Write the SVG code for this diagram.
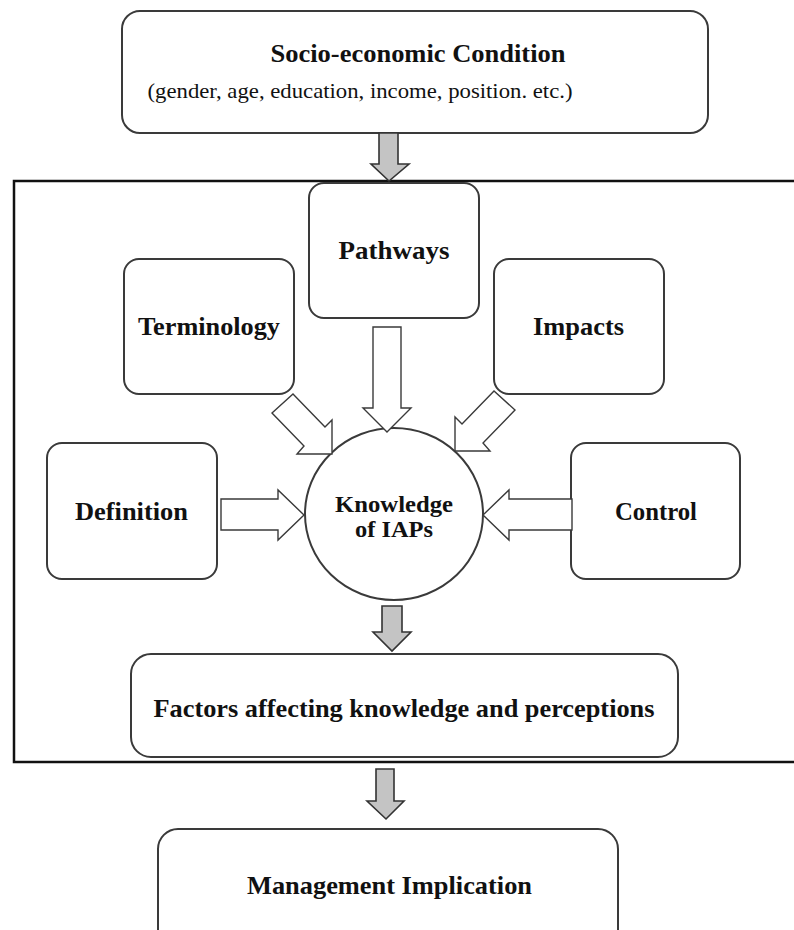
<svg xmlns="http://www.w3.org/2000/svg" width="794" height="930" viewBox="0 0 794 930">
<style>
.box{fill:#fff;stroke:#3a3a3a;stroke-width:2}
.frame{fill:none;stroke:#111;stroke-width:2.5}
.hollow{fill:#fff;stroke:#3a3a3a;stroke-width:1.4;stroke-linejoin:miter}
.gray{fill:#c4c4c4;stroke:#333;stroke-width:1.6;stroke-linejoin:miter}
.t{font-family:"Liberation Serif","Times New Roman",serif;font-weight:bold;fill:#111;text-anchor:middle}
.s{font-family:"Liberation Serif","Times New Roman",serif;fill:#111;text-anchor:middle}
</style>
<rect width="794" height="930" fill="#fff"/>
<rect id="frame" class="frame" x="14" y="181" width="800" height="581"/>
<g id="socio">
<rect class="box" x="122" y="11" width="586" height="122" rx="18"/>
<text class="t" x="418" y="62" font-size="26" textLength="295" lengthAdjust="spacingAndGlyphs">Socio-economic Condition</text>
<text class="s" x="360" y="98" font-size="21" textLength="425" lengthAdjust="spacingAndGlyphs">(gender, age, education, income, position. etc.)</text>
</g>
<g id="pathways">
<rect class="box" x="309" y="183" width="170" height="135" rx="15"/>
<text class="t" x="394" y="259" font-size="26" textLength="111" lengthAdjust="spacingAndGlyphs">Pathways</text>
</g>
<g id="terminology">
<rect class="box" x="124" y="259" width="170" height="135" rx="15"/>
<text class="t" x="209" y="335" font-size="26" textLength="142" lengthAdjust="spacingAndGlyphs">Terminology</text>
</g>
<g id="impacts">
<rect class="box" x="494" y="259" width="170" height="135" rx="15"/>
<text class="t" x="578.5" y="335" font-size="26" textLength="91" lengthAdjust="spacingAndGlyphs">Impacts</text>
</g>
<g id="definition">
<rect class="box" x="47" y="443" width="170" height="136" rx="15"/>
<text class="t" x="131.5" y="520" font-size="26" textLength="113" lengthAdjust="spacingAndGlyphs">Definition</text>
</g>
<g id="control">
<rect class="box" x="571" y="443" width="169" height="136" rx="15"/>
<text class="t" x="656" y="520" font-size="26" textLength="82" lengthAdjust="spacingAndGlyphs">Control</text>
</g>
<g id="knowledge">
<ellipse class="box" cx="394" cy="514" rx="89" ry="86"/>
<text class="t" x="394" y="512" font-size="24" textLength="118" lengthAdjust="spacingAndGlyphs">Knowledge</text>
<text class="t" x="394" y="537" font-size="24" textLength="78" lengthAdjust="spacingAndGlyphs">of IAPs</text>
</g>
<g id="factors">
<rect class="box" x="131" y="654" width="547" height="103" rx="20"/>
<text class="t" x="404" y="717" font-size="26" textLength="501" lengthAdjust="spacingAndGlyphs">Factors affecting knowledge and perceptions</text>
</g>
<g id="management">
<rect class="box" x="158" y="829" width="460" height="130" rx="20"/>
<text class="t" x="389.5" y="894" font-size="26" textLength="285" lengthAdjust="spacingAndGlyphs">Management Implication</text>
</g>
<g id="connectors">
<polygon class="gray" points="379,133 398,133 398,164 409,164 389,181 371,164 379,164"/>
<polygon class="hollow" points="373,327 401,327 401,408 411,408 387,432 363,408 373,408"/>
<polygon class="hollow" points="293,394 325,427 332,420 332,454 297,454 304,446 272,413"/>
<polygon class="hollow" points="494,391 462,424 455,417 455,451 490,451 483,443 515,410"/>
<polygon class="hollow" points="221,499 278,499 278,490 304,515 278,540 278,530 221,530"/>
<polygon class="hollow" points="572,499 509,499 509,490 483,515 509,540 509,530 572,530"/>
<polygon class="gray" points="382,606 402,606 402,632 411,632 392,651 373,632 382,632"/>
<polygon class="gray" points="376,769 394,769 394,801 404,801 386,819 367,801 376,801"/>
</g>
</svg>
